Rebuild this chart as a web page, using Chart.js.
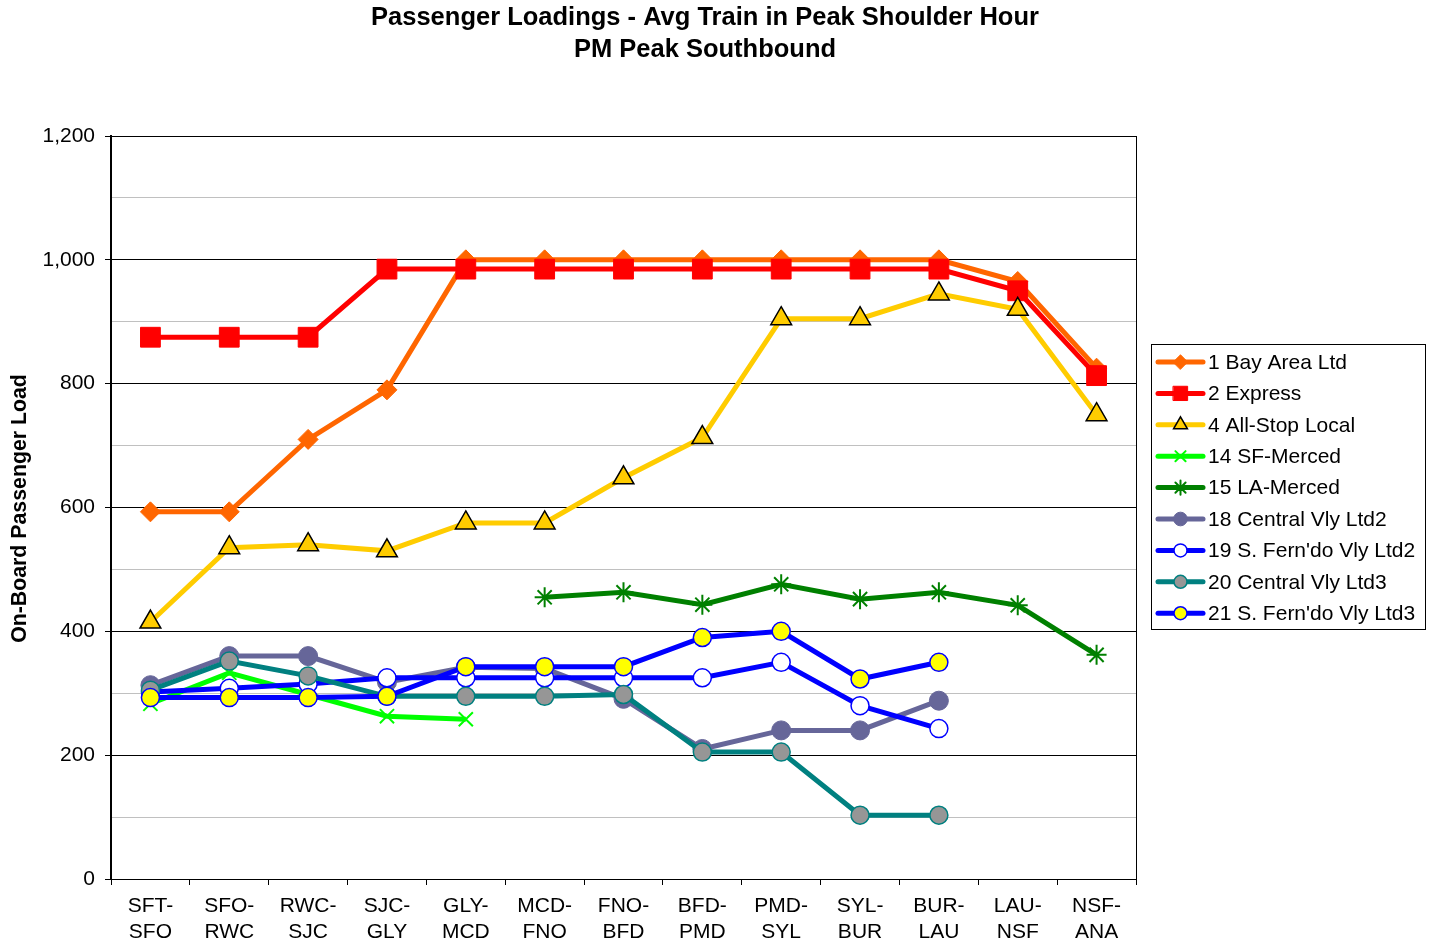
<!DOCTYPE html>
<html>
<head>
<meta charset="utf-8">
<title>Passenger Loadings</title>
<script src="https://cdn.jsdelivr.net/npm/chart.js@4/dist/chart.umd.min.js"></script>
<style>
  html, body { margin: 0; padding: 0; background: #fff; }
  #wrap { width: 1438px; height: 944px; position: relative; }
</style>
</head>
<body>
<div id="wrap"><canvas id="loadChart"></canvas></div>
<script>
// segment labels (two lines each)
const segments = [
  ['SFT-', 'SFO'], ['SFO-', 'RWC'], ['RWC-', 'SJC'], ['SJC-', 'GLY'], ['GLY-', 'MCD'],
  ['MCD-', 'FNO'], ['FNO-', 'BFD'], ['BFD-', 'PMD'], ['PMD-', 'SYL'], ['SYL-', 'BUR'],
  ['BUR-', 'LAU'], ['LAU-', 'NSF'], ['NSF-', 'ANA']
];

// series values
const bayAreaLtd   = [593, 593, 710, 790, 1000, 1000, 1000, 1000, 1000, 1000, 1000, 965, 825];
const express      = [875, 875, 875, 985, 985, 985, 985, 985, 985, 985, 985, 950, 813];
const allStopLocal = [415, 535, 540, 530, 575, 575, 648, 713, 905, 905, 945, 920, 750];
const sfMerced     = [283, 333, 298, 263, 258, null, null, null, null, null, null, null, null];
const laMerced     = [null, null, null, null, null, 455, 463, 443, 476, 452, 463, 442, 362];
const centralLtd2  = [313, 360, 360, 318, 342, 340, 291, 210, 240, 240, 288, null, null];
const fernLtd2     = [302, 308, 315, 325, 325, 325, 325, 325, 350, 280, 243, null, null];
const centralLtd3  = [305, 352, 328, 295, 295, 295, 298, 205, 205, 103, 103, null, null];
const fernLtd3     = [293, 293, 293, 295, 343, 343, 343, 390, 400, 323, 350, null, null];

const FONT = 'Arial, "Liberation Sans", sans-serif';

// line colour, marker, marker fill, marker border
const seriesDefs = [
  { label: '1 Bay Area Ltd',        data: bayAreaLtd,   color: '#FF6600', style: 'rectRot',   radius: 10,   fill: '#FF6600', edge: '#FF6600', edgeW: 1 },
  { label: '2 Express',             data: express,      color: '#FF0000', style: 'rect',      radius: 14,   fill: '#FF0000', edge: '#FF0000', edgeW: 1 },
  { label: '4 All-Stop Local',      data: allStopLocal, color: '#FFCC00', style: 'triangle',  radius: 12,   fill: '#FFCC00', edge: '#000000', edgeW: 1.5 },
  { label: '14 SF-Merced',          data: sfMerced,     color: '#00FF00', style: 'crossRot',  radius: 10,   fill: '#00FF00', edge: '#00FF00', edgeW: 2 },
  { label: '15 LA-Merced',          data: laMerced,     color: '#008000', style: 'star',      radius: 10,   fill: '#008000', edge: '#008000', edgeW: 2 },
  { label: '18 Central Vly Ltd2',   data: centralLtd2,  color: '#666699', style: 'circle',    radius: 9.5,  fill: '#666699', edge: '#666699', edgeW: 1 },
  { label: "19 S. Fern'do Vly Ltd2", data: fernLtd2,    color: '#0000FF', style: 'circle',    radius: 9,    fill: '#FFFFFF', edge: '#0000FF', edgeW: 1.5 },
  { label: '20 Central Vly Ltd3',   data: centralLtd3,  color: '#008080', style: 'circle',    radius: 9,    fill: '#969696', edge: '#008080', edgeW: 1.5 },
  { label: "21 S. Fern'do Vly Ltd3", data: fernLtd3,    color: '#0000FF', style: 'circle',    radius: 9,    fill: '#FFFF00', edge: '#0000FF', edgeW: 1.5 }
];

const datasets = seriesDefs.map((s, i) => ({
  label: s.label,
  data: s.data,
  borderColor: s.color,
  backgroundColor: s.color,
  borderWidth: 5,
  tension: 0,
  spanGaps: false,
  order: seriesDefs.length - i,   // later series on top
  pointStyle: s.style,
  pointRadius: s.radius,
  pointHoverRadius: s.radius,
  pointBackgroundColor: s.fill,
  pointBorderColor: s.edge,
  pointBorderWidth: s.edgeW
}));

// title, y-axis title, plot frame and legend box
const decorations = {
  id: 'decorations',
  afterDraw(chart) {
    const ctx = chart.ctx;
    const area = chart.chartArea;
    ctx.save();

    // plot frame
    ctx.strokeStyle = '#000';
    ctx.lineWidth = 1;
    ctx.strokeRect(area.left + 0.5, area.top + 0.5, area.right - area.left, area.bottom - area.top);

    // titles
    ctx.fillStyle = '#000';
    ctx.textAlign = 'center';
    ctx.textBaseline = 'middle';
    ctx.font = 'bold 25.5px ' + FONT;
    ctx.fillText('Passenger Loadings - Avg Train in Peak Shoulder Hour', 705, 18);
    ctx.fillText('PM Peak Southbound', 705, 50);

    // y axis title
    ctx.save();
    ctx.translate(20, (area.top + area.bottom) / 2 + 1);
    ctx.rotate(-Math.PI / 2);
    ctx.font = 'bold 21.3px ' + FONT;
    ctx.fillText('On-Board Passenger Load', 0, 0);
    ctx.restore();

    // legend
    const lx = 1151, ly = 344, lw = 274, lh = 285;
    ctx.fillStyle = '#fff';
    ctx.fillRect(lx, ly, lw, lh);
    ctx.strokeStyle = '#000';
    ctx.lineWidth = 1;
    ctx.strokeRect(lx + 0.5, ly + 0.5, lw, lh);
    ctx.font = '21px ' + FONT;
    ctx.textAlign = 'left';
    ctx.textBaseline = 'middle';
    seriesDefs.forEach((s, i) => {
      const y = 362 + i * 31.4;
      ctx.strokeStyle = s.color;
      ctx.lineWidth = 5;
      ctx.lineCap = 'round';
      ctx.beginPath();
      ctx.moveTo(1158, y);
      ctx.lineTo(1203, y);
      ctx.stroke();
      ctx.fillStyle = s.fill;
      ctx.strokeStyle = s.edge;
      ctx.lineWidth = s.edgeW;
      Chart.helpers.drawPoint(ctx, {
        pointStyle: s.style,
        radius: s.style === 'triangle' ? 8 : s.radius * 0.72,
        rotation: 0,
        borderWidth: s.edgeW
      }, 1180.5, y);
      ctx.fillStyle = '#000';
      ctx.fillText(s.label, 1208, y + 1);
    });
    ctx.restore();
  }
};

new Chart(document.getElementById('loadChart'), {
  type: 'line',
  data: { labels: segments, datasets: datasets },
  options: {
    responsive: true,
    maintainAspectRatio: false,
    animation: false,
    layout: { padding: { left: 0, top: 136, right: 302, bottom: 0 } },
    plugins: {
      legend: { display: false },
      title: { display: false },
      tooltip: { enabled: false }
    },
    scales: {
      x: {
        offset: true,
        afterFit(scale) { scale.height = 65; },
        grid: {
          offset: true,
          drawOnChartArea: false,
          drawTicks: true,
          tickLength: 6,
          tickColor: '#000'
        },
        border: { color: '#000', width: 1 },
        ticks: {
          color: '#000',
          font: { family: FONT, size: 21, lineHeight: 1.25 },
          padding: 8,
          maxRotation: 0,
          autoSkip: false
        }
      },
      y: {
        min: 0,
        max: 1200,
        afterFit(scale) { scale.width = 111; },
        grid: {
          color: c => (c.tick.value % 200 === 0 ? '#000' : '#c0c0c0'),
          tickColor: c => (c.tick.value % 200 === 0 ? '#000' : 'rgba(0,0,0,0)'),
          tickLength: 6,
          lineWidth: 1
        },
        border: { color: '#000', width: 2 },
        ticks: {
          stepSize: 100,
          color: '#000',
          padding: 10,
          font: { family: FONT, size: 21 },
          callback: v => (v % 200 === 0 ? v.toLocaleString('en-US') : '')
        }
      }
    }
  },
  plugins: [decorations]
});
</script>
</body>
</html>
